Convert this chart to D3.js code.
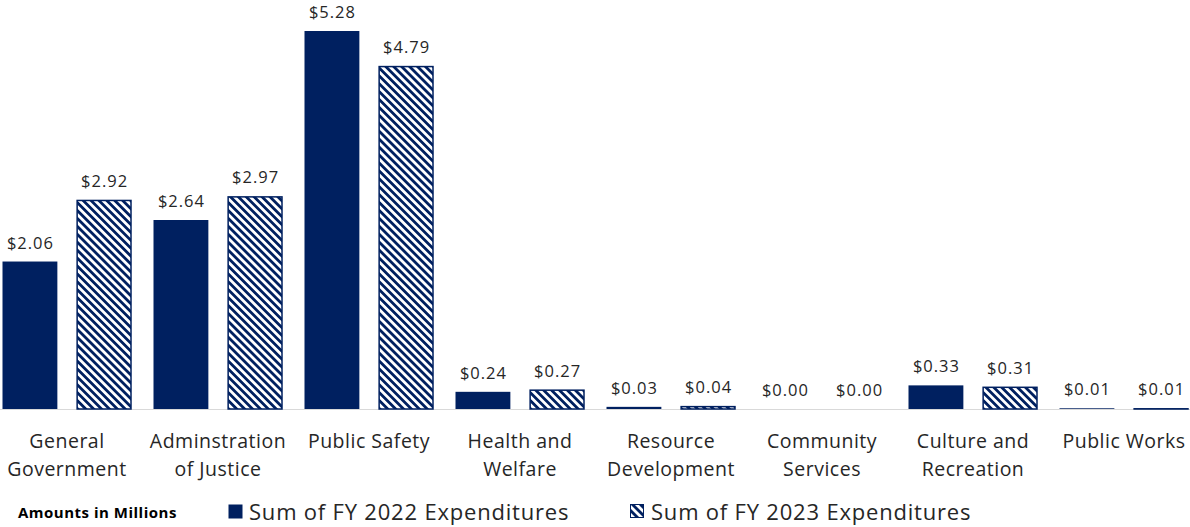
<!DOCTYPE html>
<html>
<head>
<meta charset="utf-8">
<script src="https://cdn.jsdelivr.net/npm/d3@7"></script>
<style>
  body { margin: 0; background: #fff; }
  svg { display: block; font-family: "Open Sans", Lato, sans-serif; }
</style>
</head>
<body>
<svg id="chart" width="1190" height="527"></svg>
<script>
const categories = ['General Government', 'Adminstration of Justice', 'Public Safety', 'Health and Welfare',
  'Resource Development', 'Community Services', 'Culture and Recreation', 'Public Works'];
const categoryLines = [['General', 'Government'], ['Adminstration', 'of Justice'], ['Public Safety'], ['Health and', 'Welfare'],
  ['Resource', 'Development'], ['Community', 'Services'], ['Culture and', 'Recreation'], ['Public Works']];
const fy2022 = [2.06, 2.64, 5.28, 0.24, 0.03, 0.00, 0.33, 0.01];
const fy2023 = [2.92, 2.97, 4.79, 0.27, 0.04, 0.004, 0.31, 0.01];
const seriesNames = ['Sum of FY 2022 Expenditures', 'Sum of FY 2023 Expenditures'];

const navy = '#002060';
const width = 1190, height = 527;
const baseY = 409;

const svg = d3.select('#chart');

// hatch pattern for FY 2023
const defs = svg.append('defs');
const pat = defs.append('pattern')
  .attr('id', 'hatch')
  .attr('patternUnits', 'userSpaceOnUse')
  .attr('width', 5.6).attr('height', 5.6)
  .attr('patternTransform', 'rotate(-45)');
pat.append('rect').attr('width', 5.6).attr('height', 5.6).attr('fill', '#fff');
pat.append('rect').attr('x', 0).attr('width', 2.8).attr('height', 5.6).attr('fill', navy);

const data = categories.map((c, i) => ({ cat: c, lines: categoryLines[i], vals: [fy2022[i], fy2023[i]] }));

const x0 = d3.scaleBand().domain(categories).range([-8.5, 1199.5]).paddingInner(0).paddingOuter(0);
const x1 = d3.scaleBand().domain([0, 1]).range([11, x0.bandwidth() - 11]).paddingInner(0.26).paddingOuter(0);
const y = d3.scaleLinear().domain([0, 5.28]).range([baseY, 31]);

// axis line
svg.append('line')
  .attr('x1', 0).attr('x2', width)
  .attr('y1', baseY + 0.5).attr('y2', baseY + 0.5)
  .attr('stroke', '#d9d9d9').attr('stroke-width', 1);

const groups = svg.selectAll('g.cat')
  .data(data)
  .enter()
  .append('g')
  .attr('class', 'cat')
  .attr('transform', d => 'translate(' + x0(d.cat) + ',0)');

groups.selectAll('rect')
  .data(d => d.vals.map((v, s) => ({ v, s })))
  .enter()
  .append('rect')
  .attr('x', d => x1(d.s) + (d.s === 1 ? 0.5 : 0))
  .attr('y', d => y(d.v) + (d.s === 1 ? 0.5 : 0))
  .attr('width', d => x1.bandwidth() - (d.s === 1 ? 1 : 0))
  .attr('height', d => Math.max(0, baseY - y(d.v) - (d.s === 1 ? 0.5 : 0)))
  .attr('fill', d => d.s === 0 ? navy : 'url(#hatch)')
  .attr('stroke', d => d.s === 1 ? navy : 'none')
  .attr('stroke-width', 1.5);

groups.selectAll('text.val')
  .data(d => d.vals.map((v, s) => ({ v, s })))
  .enter()
  .append('text')
  .attr('class', 'val')
  .attr('x', d => x1(d.s) + x1.bandwidth() / 2 + 0.5)
  .attr('y', d => y(d.v) - 13)
  .attr('text-anchor', 'middle')
  .attr('font-size', 16.5)
  .attr('letter-spacing', 1)
  .attr('fill', '#262626')
  .text(d => '$' + d.v.toFixed(2));

// category labels
groups.append('text')
  .attr('text-anchor', 'middle')
  .attr('font-size', 19.5)
  .attr('letter-spacing', 0.5)
  .attr('fill', '#262626')
  .attr('x', x0.bandwidth() / 2)
  .selectAll('tspan')
  .data(d => d.lines)
  .enter()
  .append('tspan')
  .attr('x', x0.bandwidth() / 2)
  .attr('y', (d, i) => 448 + i * 28)
  .text(d => d);

// legend
svg.append('text')
  .attr('x', 18).attr('y', 518)
  .attr('font-size', 15).attr('font-weight', 'bold')
  .attr('letter-spacing', 0.5)
  .attr('fill', '#000')
  .text('Amounts in Millions');

const legendX = [228, 630];
seriesNames.forEach((name, i) => {
  const g = svg.append('g').attr('transform', 'translate(' + legendX[i] + ',504)');
  g.append('rect')
    .attr('x', 0.5).attr('y', 0.5)
    .attr('width', i === 0 ? 14 : 13).attr('height', i === 0 ? 14 : 13)
    .attr('fill', i === 0 ? navy : 'url(#hatch)')
    .attr('stroke', i === 1 ? navy : 'none');
  g.append('text')
    .attr('x', 21).attr('y', 16)
    .attr('font-size', 22)
    .attr('letter-spacing', 0.8)
    .attr('fill', '#262626')
    .text(name);
});
</script>
</body>
</html>
